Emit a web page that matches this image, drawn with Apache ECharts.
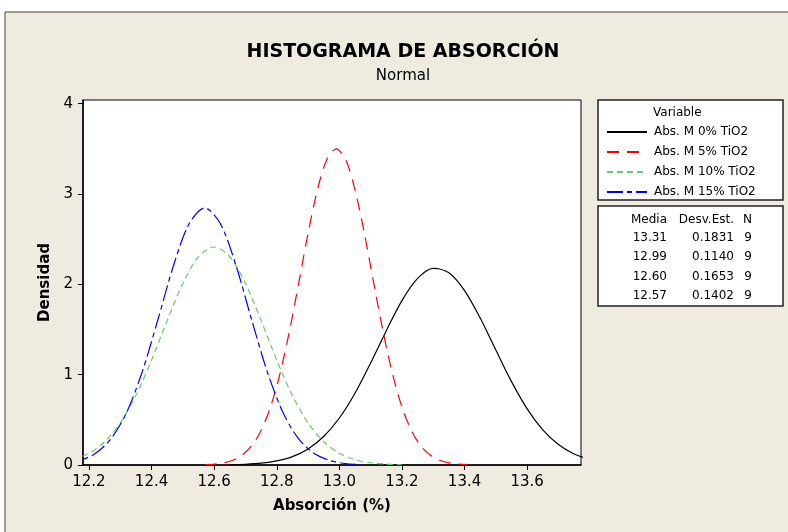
<!DOCTYPE html>
<html>
<head>
<meta charset="utf-8">
<script src="https://cdn.jsdelivr.net/npm/echarts@6/dist/echarts.min.js"></script>
<style>
  html, body { margin: 0; padding: 0; background: #fff; }
  #chart { width: 788px; height: 532px; }
</style>
</head>
<body>
<div id="chart"></div>
<script>
// tick labels
const xTicks = [12.2, 12.4, 12.6, 12.8, 13.0, 13.2, 13.4, 13.6];
const yTicks = [0, 1, 2, 3, 4];

const seriesNames = ["Abs. M 0% TiO2", "Abs. M 5% TiO2", "Abs. M 10% TiO2", "Abs. M 15% TiO2"];

// curve points (x = Absorción, y = Densidad)
const xM0 = [12.65, 12.70, 12.75, 12.80, 12.85, 12.90, 12.95, 13.00, 13.05, 13.10, 13.15, 13.20,
             13.25, 13.30, 13.35, 13.40, 13.45, 13.50, 13.55, 13.60, 13.65, 13.70, 13.75, 13.80];
const yM0 = [0.003, 0.008, 0.020, 0.045, 0.093, 0.178, 0.315, 0.520, 0.795, 1.129, 1.487, 1.820,
             2.065, 2.176, 2.128, 1.931, 1.627, 1.272, 0.923, 0.622, 0.389, 0.226, 0.121, 0.061];

const xM5 = [12.57, 12.60, 12.63, 12.66, 12.69, 12.72, 12.75, 12.78, 12.81, 12.84, 12.87, 12.90,
             12.93, 12.96, 12.99, 13.02, 13.05, 13.08, 13.11, 13.14, 13.17, 13.20, 13.23, 13.26,
             13.29, 13.32, 13.35, 13.38, 13.41];
const yM5 = [0.004, 0.010, 0.024, 0.053, 0.110, 0.212, 0.382, 0.642, 1.006, 1.473, 2.011, 2.563,
             3.047, 3.381, 3.500, 3.381, 3.047, 2.563, 2.011, 1.473, 1.006, 0.642, 0.382, 0.212,
             0.110, 0.053, 0.024, 0.010, 0.004];

const xM10 = [12.15, 12.20, 12.25, 12.30, 12.35, 12.40, 12.45, 12.50, 12.55, 12.60, 12.65,
              12.70, 12.75, 12.80, 12.85, 12.90, 12.95, 13.00, 13.05, 13.10, 13.15, 13.20];
const yM10 = [0.059, 0.129, 0.257, 0.465, 0.769, 1.161, 1.599, 2.010, 2.305, 2.413, 2.305,
              2.010, 1.599, 1.161, 0.769, 0.465, 0.257, 0.129, 0.059, 0.025, 0.010, 0.003];

const xM15 = [12.12, 12.17, 12.22, 12.27, 12.32, 12.37, 12.42, 12.47, 12.52, 12.57,
              12.62, 12.67, 12.72, 12.77, 12.82, 12.87, 12.92, 12.97, 13.02, 13.07];
const yM15 = [0.016, 0.049, 0.126, 0.288, 0.580, 1.029, 1.605, 2.206, 2.670, 2.846,
              2.670, 2.206, 1.605, 1.029, 0.580, 0.288, 0.126, 0.049, 0.016, 0.005];

// stats table
const medias = ["13.31", "12.99", "12.60", "12.57"];
const desvEst = ["0.1831", "0.1140", "0.1653", "0.1402"];
const nVals = ["9", "9", "9", "9"];

const FONT = "DejaVu Sans";

const zip = (xs, ys) => xs.map((x, i) => [x, ys[i]]);

const styles = [
  { color: "#000000", type: "solid" },
  { color: "#ff0000", type: [12, 8] },
  { color: "#66cc66", type: [6, 4] },
  { color: "#0000ff", type: [16, 4, 5, 4] }
];
const curves = [zip(xM0, yM0), zip(xM5, yM5), zip(xM10, yM10), zip(xM15, yM15)];

const series = curves.map((data, i) => ({
  name: seriesNames[i],
  type: "line",
  data,
  smooth: 0.3,
  symbol: "none",
  clip: true,
  lineStyle: { color: styles[i].color, type: styles[i].type, width: 1.2 },
  itemStyle: { color: styles[i].color },
  emphasis: { disabled: true }
}));

// stats table text
const tableText = [
  { x: 667, text: "Media" },
  { x: 734, text: "Desv.Est." },
  { x: 752, text: "N" }
];
const rowY = [238, 257, 277, 296];
const graphics = [
  { type: "rect", shape: { x: 5, y: 12, width: 800, height: 540 },
    style: { fill: "#efebe1", stroke: "#444", lineWidth: 1 }, z: -10 },
  { type: "rect", shape: { x: 598, y: 100, width: 185, height: 100 },
    style: { fill: "#fff", stroke: "#222", lineWidth: 1.5 }, z: 0 },
  { type: "rect", shape: { x: 598, y: 206, width: 185, height: 100 },
    style: { fill: "#fff", stroke: "#222", lineWidth: 1.5 }, z: 0 },
  { type: "text", x: 653, y: 113, z: 1,
    style: { text: "Variable", font: `12px "${FONT}"`, fill: "#000", verticalAlign: "middle" } }
];
tableText.forEach(h => graphics.push({
  type: "text", x: h.x, y: 220, z: 1,
  style: { text: h.text, font: `12px "${FONT}"`, fill: "#000", align: "right", verticalAlign: "middle" }
}));
rowY.forEach((y, i) => {
  [medias[i], desvEst[i], nVals[i]].forEach((t, j) => graphics.push({
    type: "text", x: tableText[j].x, y, z: 1,
    style: { text: t, font: `12px "${FONT}"`, fill: "#000", align: "right", verticalAlign: "middle" }
  }));
});

const chart = echarts.init(document.getElementById("chart"), null, { renderer: "canvas" });
chart.setOption({
  animation: false,
  backgroundColor: "#ffffff",
  title: [
    { text: "HISTOGRAMA DE ABSORCIÓN", left: 398, top: 38, textAlign: "center",
      textStyle: { fontFamily: FONT, fontSize: 19, fontWeight: "bold", color: "#000" } },
    { text: "Normal", left: 398, top: 64, textAlign: "center",
      textStyle: { fontFamily: FONT, fontSize: 15, fontWeight: "normal", color: "#000" } }
  ],
  legend: {
    orient: "vertical",
    left: 606,
    top: 126,
    itemWidth: 40,
    itemHeight: 12,
    itemGap: 8,
    padding: 0,
    selectedMode: false,
    data: seriesNames,
    itemStyle: { opacity: 0 },
    textStyle: { fontFamily: FONT, fontSize: 12, color: "#000", padding: [0, 0, 0, 2] }
  },
  grid: {
    left: 83, right: 207, top: 100, bottom: 67,
    show: true, backgroundColor: "#fff", borderColor: "#000", borderWidth: 1
  },
  xAxis: {
    type: "value",
    min: 12.181,
    max: 13.772,
    name: "Absorción (%)",
    nameLocation: "middle",
    nameGap: 34,
    nameTextStyle: { fontFamily: FONT, fontSize: 15, fontWeight: "bold", color: "#000" },
    axisLine: { lineStyle: { color: "#000", width: 1.5 } },
    axisTick: { customValues: xTicks, length: 5, lineStyle: { color: "#000" } },
    axisLabel: { customValues: xTicks, formatter: v => v.toFixed(1), margin: 10,
      fontFamily: FONT, fontSize: 15, color: "#000" },
    splitLine: { show: false }
  },
  yAxis: {
    type: "value",
    min: 0,
    max: 4.04,
    name: "Densidad",
    nameLocation: "middle",
    nameGap: 30,
    nameTextStyle: { fontFamily: FONT, fontSize: 15, fontWeight: "bold", color: "#000" },
    axisLine: { show: true, lineStyle: { color: "#000", width: 1.5 } },
    axisTick: { show: true, customValues: yTicks, length: 5, lineStyle: { color: "#000" } },
    axisLabel: { customValues: yTicks, margin: 10, fontFamily: FONT, fontSize: 15, color: "#000" },
    splitLine: { show: false }
  },
  graphic: graphics,
  series
});
</script>
</body>
</html>
